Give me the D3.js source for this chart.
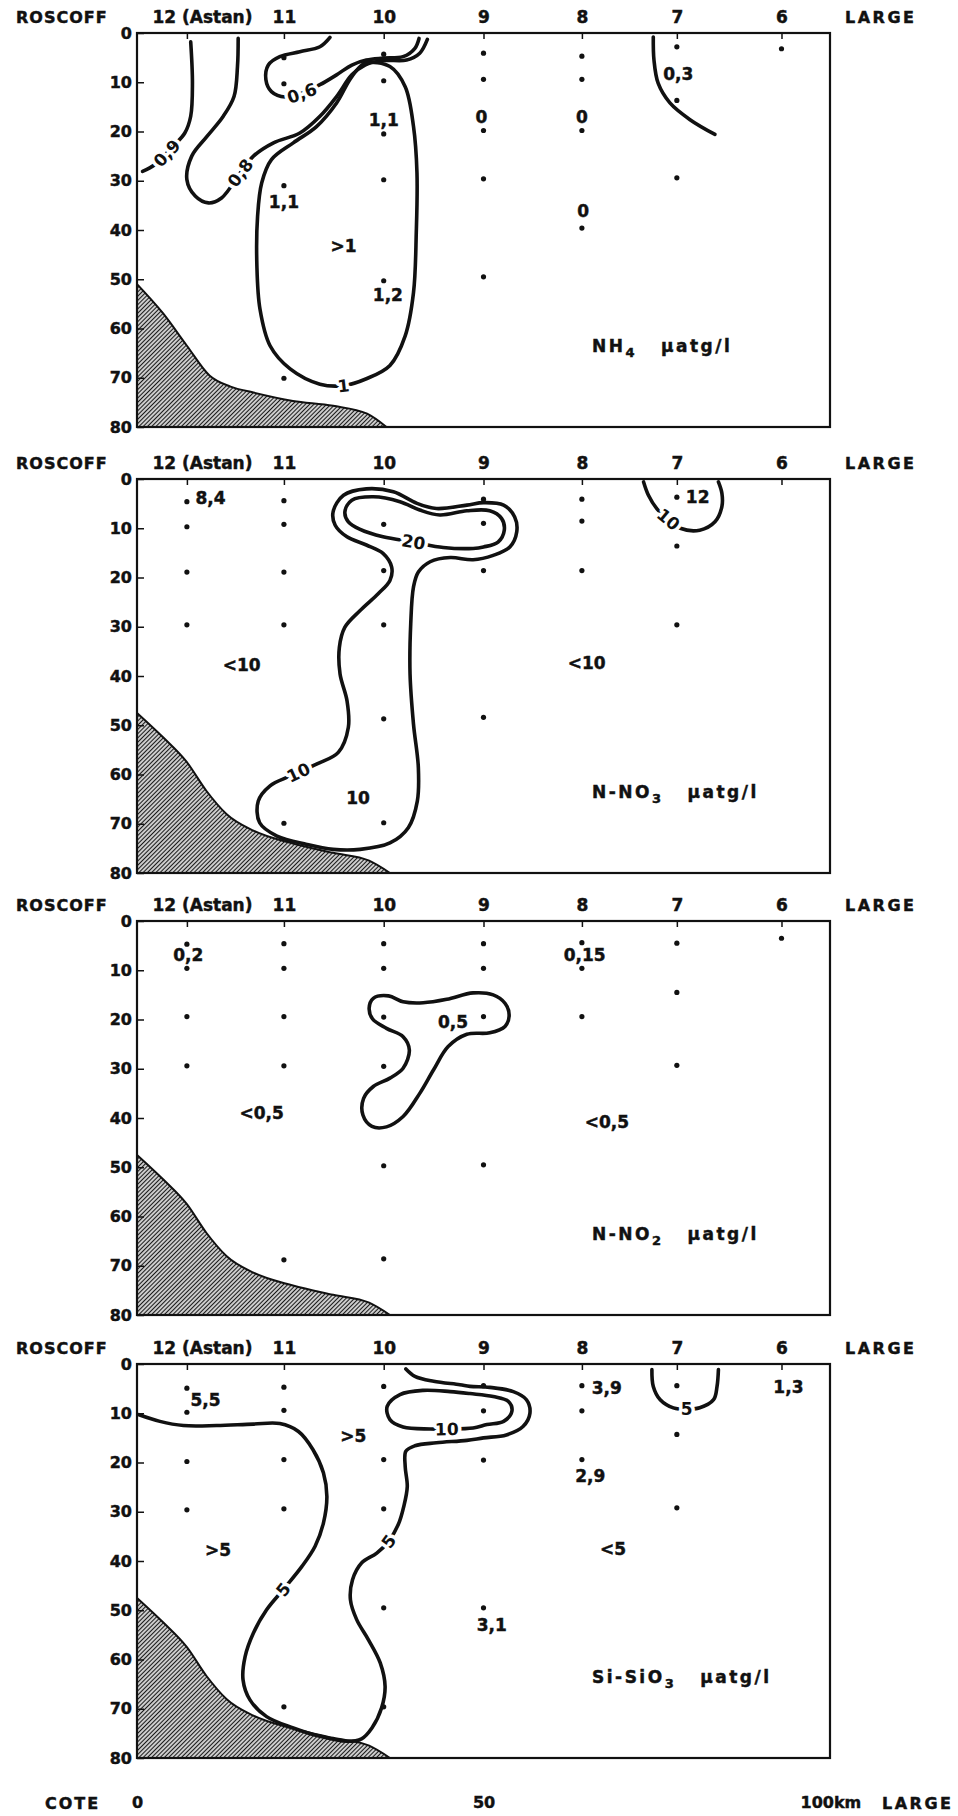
<!DOCTYPE html>
<html>
<head>
<meta charset="utf-8">
<script src="https://cdn.jsdelivr.net/npm/d3@7"></script>
<style>
body{margin:0;background:#fff;}
svg{display:block;}
svg text{font-family:'DejaVu Sans','Liberation Sans',sans-serif;font-weight:bold;fill:#111;stroke:#111;stroke-width:0.45px;}
</style>
</head>
<body>
<div id="chart"></div>
<script>
// stations along the section (km from the coast)
const stationNames = ['12 (Astan)','11','10','9','8','7','6'];
const stationKm = [7.2,21.2,35.6,50,64.2,77.9,93];
const depthTicks = [0,10,20,30,40,50,60,70,80];
const distTicks = [0,50,100];

// sea floor profile [km, depth m]
const seabedNH4 = [[0,51],[3.8,57],[7.2,63.5],[10.5,69.6],[13.5,71.8],[16.8,73],[22.5,74.7],[28.3,75.7],[33.2,77.3],[36,80]];
const seabedOther = [[0,47.5],[3.8,52.5],[7.2,57.5],[10,63.3],[12.9,68],[16.8,71.4],[22.5,74],[28.3,75.9],[33.5,77.5],[36.5,80]];

// titles
const titleMain = ['NH','N-NO','N-NO','Si-SiO'];
const titleSub = ['4','3','2','3'];
const unitLabel = 'µatg/l';

// ---- NH4 ----
const nh4C09 = [[7.75,1.8],[8.0,10.2],[7.75,16.9],[6.9,20.3],[5.2,23.0],[2.6,26.7],[0.8,28.1]];
const nh4C08 = [[14.6,1.1],[14.5,6.8],[14.0,12.9],[12.45,16.9],[10.1,21.0],[7.9,25.0],[7.2,29.8],[8.4,33.1],[10.3,34.5],[12.2,33.5],[14.9,28.4],[16.8,25.0],[19.7,22.3],[23.5,20.3],[26.4,16.9],[28.8,12.9],[31.0,8.5],[32.9,6.5],[35.5,5.6],[38.9,5.5],[40.8,4.1],[41.9,1.3]];
const nh4C06 = [[27.85,0.9],[26.4,2.8],[23.5,3.8],[20.6,4.8],[18.95,6.5],[18.6,9.5],[19.4,11.9],[21.4,13.0],[23.8,12.2],[26.4,10.5],[28.8,8.5],[31.0,6.5],[33.1,5.5],[35.5,5.1],[38.4,4.8],[40.1,3.1],[40.7,1.1]];
const nh4C1 = [[33.1,6.0],[36.5,6.8],[38.7,10.9],[39.9,19.0],[40.4,28.4],[40.3,40.5],[39.9,52.7],[38.7,61.5],[36.5,67.5],[33.1,70.2],[29.8,71.6],[26.4,71.3],[22.1,68.2],[19.2,63.5],[17.75,56.1],[17.3,47.3],[17.4,37.2],[18.0,30.4],[19.4,25.7],[22.55,22.3],[25.9,19.0],[28.8,14.2],[30.7,9.5],[32.2,6.8]];
const nh4C03 = [[74.5,0.8],[74.6,5.5],[75.2,10.2],[76.9,14.2],[79.8,17.6],[83.4,20.6]];
const nh4Samples = [[1,5],[1,10.3],[1,31],[1,70.1],[2,4.3],[2,9.7],[2,20.5],[2,29.8],[2,50.3],[3,4.1],[3,9.4],[3,19.8],[3,29.6],[3,49.5],[4,4.7],[4,9.4],[4,19.8],[4,39.6],[5,2.8],[5,13.7],[5,29.4],[6,3.2]];
const nh4Values = [[21.2,34.3,'1,1'],[35.6,17.6,'1,1'],[36.2,53.2,'1,2'],[29.8,43.3,'>1'],[49.7,17.1,'0'],[64.2,17.0,'0'],[64.4,36.2,'0'],[78.1,8.2,'0,3']];
const nh4ContourLabels = [[4.3,24.4,'0,9'],[14.9,28.4,'0,8'],[23.8,12.2,'0,6'],[29.8,71.6,'1']];

// ---- NO3 ----
const no3C20 = [[30.0,6.65],[31.0,4.3],[34.1,3.6],[37.95,4.6],[40.8,6.3],[43.7,7.3],[47.6,6.45],[50.9,6.45],[52.6,8.0],[53.0,10.4],[52.1,12.8],[50.0,13.8],[48.5,14.1],[44.2,13.9],[39.9,12.8],[35.5,11.75],[32.2,10.25],[30.5,8.7]];
const no3C10 = [[28.3,6.65],[29.8,3.3],[33.1,2.0],[37.0,2.6],[40.4,4.95],[43.2,6.0],[47.6,5.3],[50.0,4.8],[52.9,5.3],[54.5,7.7],[54.8,10.7],[53.8,13.8],[51.4,15.5],[48.5,16.4],[45.2,15.95],[42.3,16.8],[40.6,18.9],[39.9,21.9],[39.5,29.4],[39.4,39.6],[39.9,49.8],[40.6,58.6],[40.45,65.4],[39.15,70.8],[36.5,73.9],[32.2,75.2],[28.3,75.2],[24.5,74.2],[20.2,72.5],[17.7,69.8],[17.5,65.4],[19.2,62.3],[22.1,60.3],[25.9,57.9],[29.05,55.5],[30.5,50.4],[30.3,45.0],[29.3,39.6],[29.2,34.2],[30.0,30.1],[32.2,26.7],[34.8,23.3],[36.5,20.6],[36.75,17.9],[35.5,15.1],[33.1,13.4],[30.3,11.75],[28.6,9.4]];
const no3C10b = [[73.1,0.6],[73.8,3.3],[75.0,6.0],[76.7,8.2],[78.4,10.0],[81.2,10.4],[83.4,8.7],[84.4,5.6],[84.4,2.9],[83.9,0.6]];
const no3Samples = [[0,4.6],[0,9.7],[0,18.9],[0,29.6],[1,4.4],[1,9.2],[1,18.9],[1,29.6],[1,69.9],[2,9.2],[2,18.6],[2,29.6],[2,48.7],[2,69.8],[3,4.1],[3,9.0],[3,18.6],[3,48.4],[4,4.1],[4,8.55],[4,18.6],[5,3.7],[5,13.6],[5,29.6]];
const no3Values = [[10.6,3.9,'8,4'],[15.1,37.7,'<10'],[64.9,37.4,'<10'],[31.9,64.7,'10'],[80.9,3.7,'12']];
const no3ContourLabels = [[39.9,12.8,'20'],[23.3,59.6,'10'],[76.7,8.2,'10']];

// ---- NO2 ----
const no2C05 = [[34.1,15.7],[36.3,15.2],[38.4,16.4],[41.3,16.6],[44.7,15.9],[48.5,14.6],[51.4,15.0],[53.1,16.7],[53.7,19.1],[53.1,21.4],[50.9,22.7],[47.6,23.0],[44.9,25.5],[42.8,30.2],[40.8,35.0],[38.4,39.7],[36.0,41.8],[33.9,41.7],[32.6,39.4],[32.7,36.0],[34.1,33.6],[36.5,31.9],[38.4,29.9],[39.3,26.2],[38.4,23.5],[36.0,21.8],[34.0,19.9],[33.5,17.7]];
const no2Samples = [[0,4.7],[0,9.6],[0,19.4],[0,29.4],[1,4.6],[1,9.6],[1,19.4],[1,29.4],[1,68.8],[2,4.6],[2,9.6],[2,19.5],[2,29.5],[2,49.7],[2,68.6],[3,4.6],[3,9.6],[3,19.4],[3,49.5],[4,4.4],[4,9.6],[4,19.4],[5,4.5],[5,14.5],[5,29.3],[6,3.5]];
const no2Values = [[7.4,6.9,'0,2'],[64.6,6.9,'0,15'],[45.6,20.4,'0,5'],[18.0,39.0,'<0,5'],[67.8,40.7,'<0,5']];
const no2ContourLabels = [];

// ---- SiO3 ----
const siC5 = [[0.3,10.3],[3.3,11.65],[6.7,12.5],[11.5,12.5],[16.8,12.2],[20.6,12.1],[23.3,13.7],[25.4,17.4],[26.9,22.1],[27.4,26.9],[26.9,32.3],[25.7,37.0],[23.8,41.1],[21.1,45.8],[18.7,49.9],[16.8,54.6],[15.6,59.4],[15.3,64.1],[16.3,68.2],[18.7,71.6],[22.55,73.9],[26.4,75.6],[30.3,76.6],[32.4,76.1],[33.9,73.9],[35.3,69.8],[35.8,65.5],[35.1,60.7],[33.4,56.0],[31.7,51.9],[30.8,47.9],[31.1,43.8],[32.4,40.4],[34.6,38.4],[36.3,36.0],[37.7,32.6],[38.5,28.9],[39.0,24.9],[38.7,20.8],[38.8,17.7],[40.1,16.6],[43.2,16.0],[47.6,15.5],[50.0,15.0],[53.3,14.4],[55.7,12.7],[56.7,10.0],[56.2,7.25],[54.3,5.6],[50.9,4.75],[48.05,4.55],[46.6,4.2],[42.8,3.5],[40.1,2.5],[38.8,1.0]];
const siC10 = [[37.95,6.2],[36.1,8.6],[36.5,11.3],[38.4,12.8],[42.3,13.2],[44.7,13.2],[48.5,13.0],[50.5,12.3],[52.9,11.65],[54.1,9.6],[53.6,7.6],[51.4,6.6],[48.05,6.0],[45.2,5.6],[41.3,5.35]];
const siC5b = [[74.3,1.15],[74.5,4.55],[75.5,7.25],[77.4,8.9],[79.3,9.2],[81.2,8.9],[83.2,7.25],[83.7,4.55],[83.9,1.15]];
const siSamples = [[0,4.9],[0,9.8],[0,19.8],[0,29.6],[1,4.7],[1,9.4],[1,19.4],[1,29.4],[1,69.6],[2,4.55],[2,19.4],[2,29.4],[2,49.5],[2,69.6],[3,4.4],[3,9.5],[3,19.5],[3,49.5],[4,4.4],[4,9.5],[4,19.4],[5,4.4],[5,14.3],[5,29.2]];
const siValues = [[9.9,7.3,'5,5'],[31.2,14.6,'>5'],[11.7,37.7,'>5'],[67.8,4.9,'3,9'],[94.0,4.55,'1,3'],[65.4,22.7,'2,9'],[68.7,37.6,'<5'],[51.2,52.9,'3,1']];
const siContourLabels = [[21.1,45.8,'5'],[36.3,36.0,'5'],[44.7,13.2,'10'],[79.3,9.2,'5']];

const panels = [
  {seabed:seabedNH4, samples:nh4Samples, values:nh4Values, clabels:nh4ContourLabels,
   contours:[[nh4C09,false],[nh4C08,false],[nh4C06,false],[nh4C1,true],[nh4C03,false]]},
  {seabed:seabedOther, samples:no3Samples, values:no3Values, clabels:no3ContourLabels,
   contours:[[no3C20,true],[no3C10,true],[no3C10b,false]]},
  {seabed:seabedOther, samples:no2Samples, values:no2Values, clabels:no2ContourLabels,
   contours:[[no2C05,true]]},
  {seabed:seabedOther, samples:siSamples, values:siValues, clabels:siContourLabels,
   contours:[[siC5,false],[siC10,true],[siC5b,false]]}
];

// layout
const W = 958, H = 1816;
const plotLeft = 137, plotRight = 830, plotH = 394;
const panelTops = [33, 479, 921, 1364];

const x = d3.scaleLinear().domain([0,100]).range([plotLeft, plotRight]);
const y = d3.scaleLinear().domain([0,80]).range([0, plotH]);

const svg = d3.select('#chart').append('svg').attr('width',W).attr('height',H);

//hatching for the sea floor
const defs = svg.append('defs');
const pat = defs.append('pattern').attr('id','hatch')
  .attr('patternUnits','userSpaceOnUse').attr('width',3).attr('height',3)
  .attr('patternTransform','rotate(45)');
pat.append('rect').attr('width',3).attr('height',3).attr('fill','#fff');
pat.append('line').attr('x1',1.5).attr('y1',0).attr('x2',1.5).attr('y2',3)
  .attr('stroke','#1a1a1a').attr('stroke-width',1.45);
defs.append('clipPath').attr('id','plotclip').append('rect')
  .attr('x',plotLeft).attr('y',0).attr('width',plotRight-plotLeft).attr('height',plotH);

function labelAngle(contours, px, py){
  let best = null, bd = Infinity;
  contours.forEach(([pts,closed]) => {
    const P = pts.map(d => [x(d[0]), y(d[1])]);
    const n = P.length;
    P.forEach((q,j) => {
      const dd = (q[0]-px)**2 + (q[1]-py)**2;
      if(dd < bd){
        bd = dd;
        const a = P[closed ? (j-1+n)%n : Math.max(j-1,0)];
        const b = P[closed ? (j+1)%n : Math.min(j+1,n-1)];
        best = [a,b];
      }
    });
  });
  let ang = Math.atan2(best[1][1]-best[0][1], best[1][0]-best[0][0]) * 180/Math.PI;
  if(ang > 90) ang -= 180;
  if(ang < -90) ang += 180;
  return ang;
}

panels.forEach((p,i) => {
  const g = svg.append('g').attr('transform',`translate(0,${panelTops[i]})`);

  //sea floor
  const area = d3.area().x(d=>x(d[0])).y0(y(80)).y1(d=>y(d[1])).curve(d3.curveMonotoneX);
  const floorLine = d3.line().x(d=>x(d[0])).y(d=>y(d[1])).curve(d3.curveMonotoneX);
  g.append('path').datum(p.seabed).attr('d',area).attr('fill','url(#hatch)');
  g.append('path').datum(p.seabed).attr('d',floorLine)
    .attr('fill','none').attr('stroke','#111').attr('stroke-width',2);

  //contours
  const cg = g.append('g').attr('clip-path','url(#plotclip)');
  p.contours.forEach(([pts,closed]) => {
    const ln = d3.line().x(d=>x(d[0])).y(d=>y(d[1]))
      .curve(closed ? d3.curveCatmullRomClosed.alpha(0.5) : d3.curveCatmullRom.alpha(0.5));
    cg.append('path').attr('d', ln(pts))
      .attr('fill','none').attr('stroke','#111').attr('stroke-width',3.6)
      .attr('stroke-linecap','round').attr('stroke-linejoin','round');
  });

  //frame
  g.append('rect').attr('x',plotLeft).attr('y',0)
    .attr('width',plotRight-plotLeft).attr('height',plotH)
    .attr('fill','none').attr('stroke','#111').attr('stroke-width',2.2);

  //depth axis
  const yAxis = d3.axisLeft(y).tickValues(depthTicks).tickSizeInner(-7).tickSizeOuter(0).tickPadding(5);
  const yA = g.append('g').attr('transform',`translate(${plotLeft},0)`).call(yAxis);
  yA.select('.domain').remove();
  yA.selectAll('line').attr('stroke','#111').attr('stroke-width',1.5);
  yA.selectAll('text').style('font-size','16px');

  //station axis
  const sAxis = d3.axisTop(x).tickValues(stationKm).tickFormat((d,j)=>stationNames[j])
    .tickSizeInner(-6).tickSizeOuter(0).tickPadding(10);
  const sA = g.append('g').call(sAxis);
  sA.select('.domain').remove();
  sA.selectAll('line').attr('stroke','#111').attr('stroke-width',1.5);
  sA.selectAll('text').style('font-size','17px');
  sA.selectAll('.tick').filter((d,j)=>j===0).select('text')
    .attr('text-anchor','start').attr('x',-35);

  g.append('text').attr('x',16).attr('y',-10).style('font-size','16px')
    .style('letter-spacing','1px').text('ROSCOFF');
  g.append('text').attr('x',845).attr('y',-10).style('font-size','16px')
    .style('letter-spacing','2.5px').text('LARGE');

  //sampling points
  g.selectAll('.sample').data(p.samples).join('circle').attr('class','sample')
    .attr('cx',d=>x(stationKm[d[0]])).attr('cy',d=>y(d[1])).attr('r',2.6).attr('fill','#111');

  //values
  g.selectAll('.value').data(p.values).join('text').attr('class','value')
    .attr('x',d=>x(d[0])).attr('y',d=>y(d[1])).attr('dy','0.36em')
    .attr('text-anchor','middle').style('font-size','17px').text(d=>d[2]);

  //contour labels
  g.selectAll('.clabel').data(p.clabels).join('text').attr('class','clabel')
    .attr('transform',d=>`translate(${x(d[0])},${y(d[1])}) rotate(${labelAngle(p.contours,x(d[0]),y(d[1]))})`)
    .attr('dy','0.36em').attr('text-anchor','middle')
    .style('font-size','17px').style('stroke','#fff').style('stroke-width','7px')
    .style('paint-order','stroke').style('stroke-linejoin','round')
    .text(d=>d[2]);

  //title
  const t = g.append('text').attr('x',592).attr('y',319)
    .style('font-size','17px').style('letter-spacing','2.5px');
  t.append('tspan').text(titleMain[i]);
  t.append('tspan').attr('dy',5).style('font-size','13px').text(titleSub[i]);
  t.append('tspan').attr('dy',-5).attr('dx',24).text(unitLabel);
});

//distance axis at the bottom
const dAxis = d3.axisBottom(x).tickValues(distTicks).tickSize(0).tickPadding(0)
  .tickFormat(d => d===100 ? '100km' : d);
const dA = svg.append('g').attr('transform','translate(0,1797)').call(dAxis);
dA.select('.domain').remove();
dA.selectAll('text').style('font-size','16px');
dA.selectAll('.tick').filter(d=>d===100).select('text').attr('text-anchor','start').attr('x',-30);
svg.append('text').attr('x',45).attr('y',1809).style('font-size','16px')
  .style('letter-spacing','2px').text('COTE');
svg.append('text').attr('x',882).attr('y',1809).style('font-size','16px')
  .style('letter-spacing','2.5px').text('LARGE');
</script>
</body>
</html>
